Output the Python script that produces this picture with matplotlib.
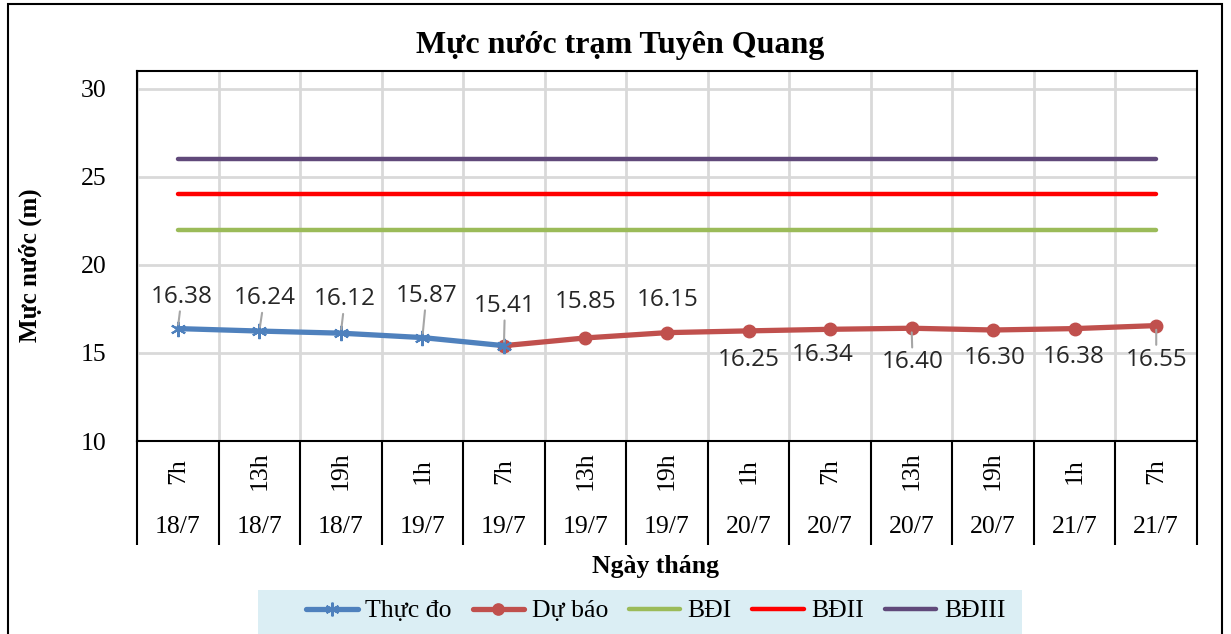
import matplotlib.pyplot as plt
import matplotlib.patches as pt
from matplotlib.ticker import FixedLocator

# data
gio = ['7h', '13h', '19h', '1h', '7h', '13h', '19h', '1h', '7h', '13h', '19h', '1h', '7h']
ngay = ['18/7', '18/7', '18/7', '19/7', '19/7', '19/7', '19/7', '20/7', '20/7', '20/7', '20/7', '21/7', '21/7']
thuc_do = [16.38, 16.24, 16.12, 15.87, 15.41]
du_bao = [15.41, 15.85, 16.15, 16.25, 16.34, 16.40, 16.30, 16.38, 16.55]
bd1 = [22, 22, 22, 22, 22, 22, 22, 22, 22, 22, 22, 22, 22]
bd2 = [24, 24, 24, 24, 24, 24, 24, 24, 24, 24, 24, 24, 24]
bd3 = [26, 26, 26, 26, 26, 26, 26, 26, 26, 26, 26, 26, 26]

serif = 'Liberation Serif'
plt.rcParams['font.family'] = [serif, 'DejaVu Serif']

fig = plt.figure(figsize=(12.31, 6.34), dpi=100)
ax = fig.add_axes([137/1231, 1-441/634, (1197-137)/1231, (441-71)/634])

n = len(gio)
x_td = list(range(len(thuc_do)))
x_db = list(range(n - len(du_bao), n))
xs = list(range(n))

ax.plot(xs, bd1, color='#9BBB59', lw=3.2, solid_capstyle='round', label='BĐI', zorder=3)
ax.plot(xs, bd2, color='#FF0000', lw=3.2, solid_capstyle='round', label='BĐII', zorder=3)
ax.plot(xs, bd3, color='#60497A', lw=3.2, solid_capstyle='round', label='BĐIII', zorder=3)
l_db, = ax.plot(x_db, du_bao, color='#C0504D', lw=3.8, marker='o', ms=9,
                solid_capstyle='round', label='Dự báo', zorder=4)
l_td, = ax.plot(x_td, thuc_do, color='#4F81BD', lw=3.8, marker=(6, 2, 0), ms=11, mew=1.5,
                solid_capstyle='round', label='Thực đo', zorder=5)

# data labels (offset in pixels, leader line or not)
offs_td = [(4, 32, True), (5, 33, True), (4, 34, True), (4, 42, True), (1, 40, True)]
offs_db = [(0, 36, False), (1, 33, False), (0, -29, False), (-7, -26, False),
           (1, -34, True), (2, -28, False), (-1, -28, False), (0, -34, True)]
lab_font = dict(fontsize=17.5, family=['Open Sans', 'DejaVu Sans'], color='#262626')

def put_label(x, y, dx, dy, line):
    kw = {}
    if line:
        kw['arrowprops'] = dict(arrowstyle='-', color='#A6A6A6', lw=1.5, shrinkA=0, shrinkB=3)
    ax.annotate('%.2f' % y, (x, y), xytext=(dx, dy), textcoords='offset pixels',
                ha='center', va='center', zorder=6, **lab_font, **kw)

for x, y, o in zip(x_td, thuc_do, offs_td):
    put_label(x, y, o[0], o[1], o[2])
for x, y, o in zip(x_db[1:], du_bao[1:], offs_db):
    put_label(x, y, o[0], o[1], o[2])

# axes look
ax.set_xlim(-0.5, n - 0.5)
ax.set_ylim(10, 31)
ax.set_yticks([10, 15, 20, 25, 30])
ax.tick_params(axis='y', length=0, pad=22, labelsize=18.5)
ax.grid(axis='y', color='#D9D9D9', lw=2, zorder=0)
bounds = [i - 0.5 for i in range(n + 1)]
ax.xaxis.set_major_locator(FixedLocator(bounds))
ax.set_xticklabels([])
ax.tick_params(axis='x', length=75, width=1.5, direction='out', color='black')
ax.grid(axis='x', color='#D9D9D9', lw=2, zorder=0)
for s in ax.spines.values():
    s.set_linewidth(1.5)

for i in range(n):
    ax.text(i, -0.081, gio[i], transform=ax.get_xaxis_transform(), rotation=90,
            ha='center', va='center', fontsize=18.5)
    ax.text(i, -0.232, ngay[i], transform=ax.get_xaxis_transform(),
            ha='center', va='center', fontsize=18.5)

fig.text(620/1231, 1-45/634, 'Mực nước trạm Tuyên Quang', ha='center', va='center',
         fontsize=23, fontweight='bold')
fig.text(30/1231, 1-265/634, 'Mực nước (m)', ha='center', va='center', rotation=90,
         fontsize=18, fontweight='bold')
fig.text(655/1231, 1-567/634, 'Ngày tháng', ha='center', va='center',
         fontsize=18.5, fontweight='bold')

# legend background + outer border
fig.patches.append(pt.Rectangle((258/1231, -0.05), (1022-258)/1231, 0.05+1-590/634,
                                transform=fig.transFigure, facecolor='#DBEEF4',
                                edgecolor='none', zorder=0))
fig.patches.append(pt.Rectangle((8/1231, -0.05), (1222-8)/1231, 1.05-4/634,
                                transform=fig.transFigure, facecolor='none',
                                edgecolor='black', lw=1.5, zorder=10))

handles = [l_td, l_db] + ax.get_lines()[:3]
fig.legend(handles, [h.get_label() for h in handles], loc='center',
           bbox_to_anchor=(656/1231, 1-611/634), ncol=5, frameon=False,
           fontsize=18.5, handlelength=2.0, handletextpad=0.3, columnspacing=0.8,
           markerscale=0.9)

fig.savefig('out.png', dpi=100)
